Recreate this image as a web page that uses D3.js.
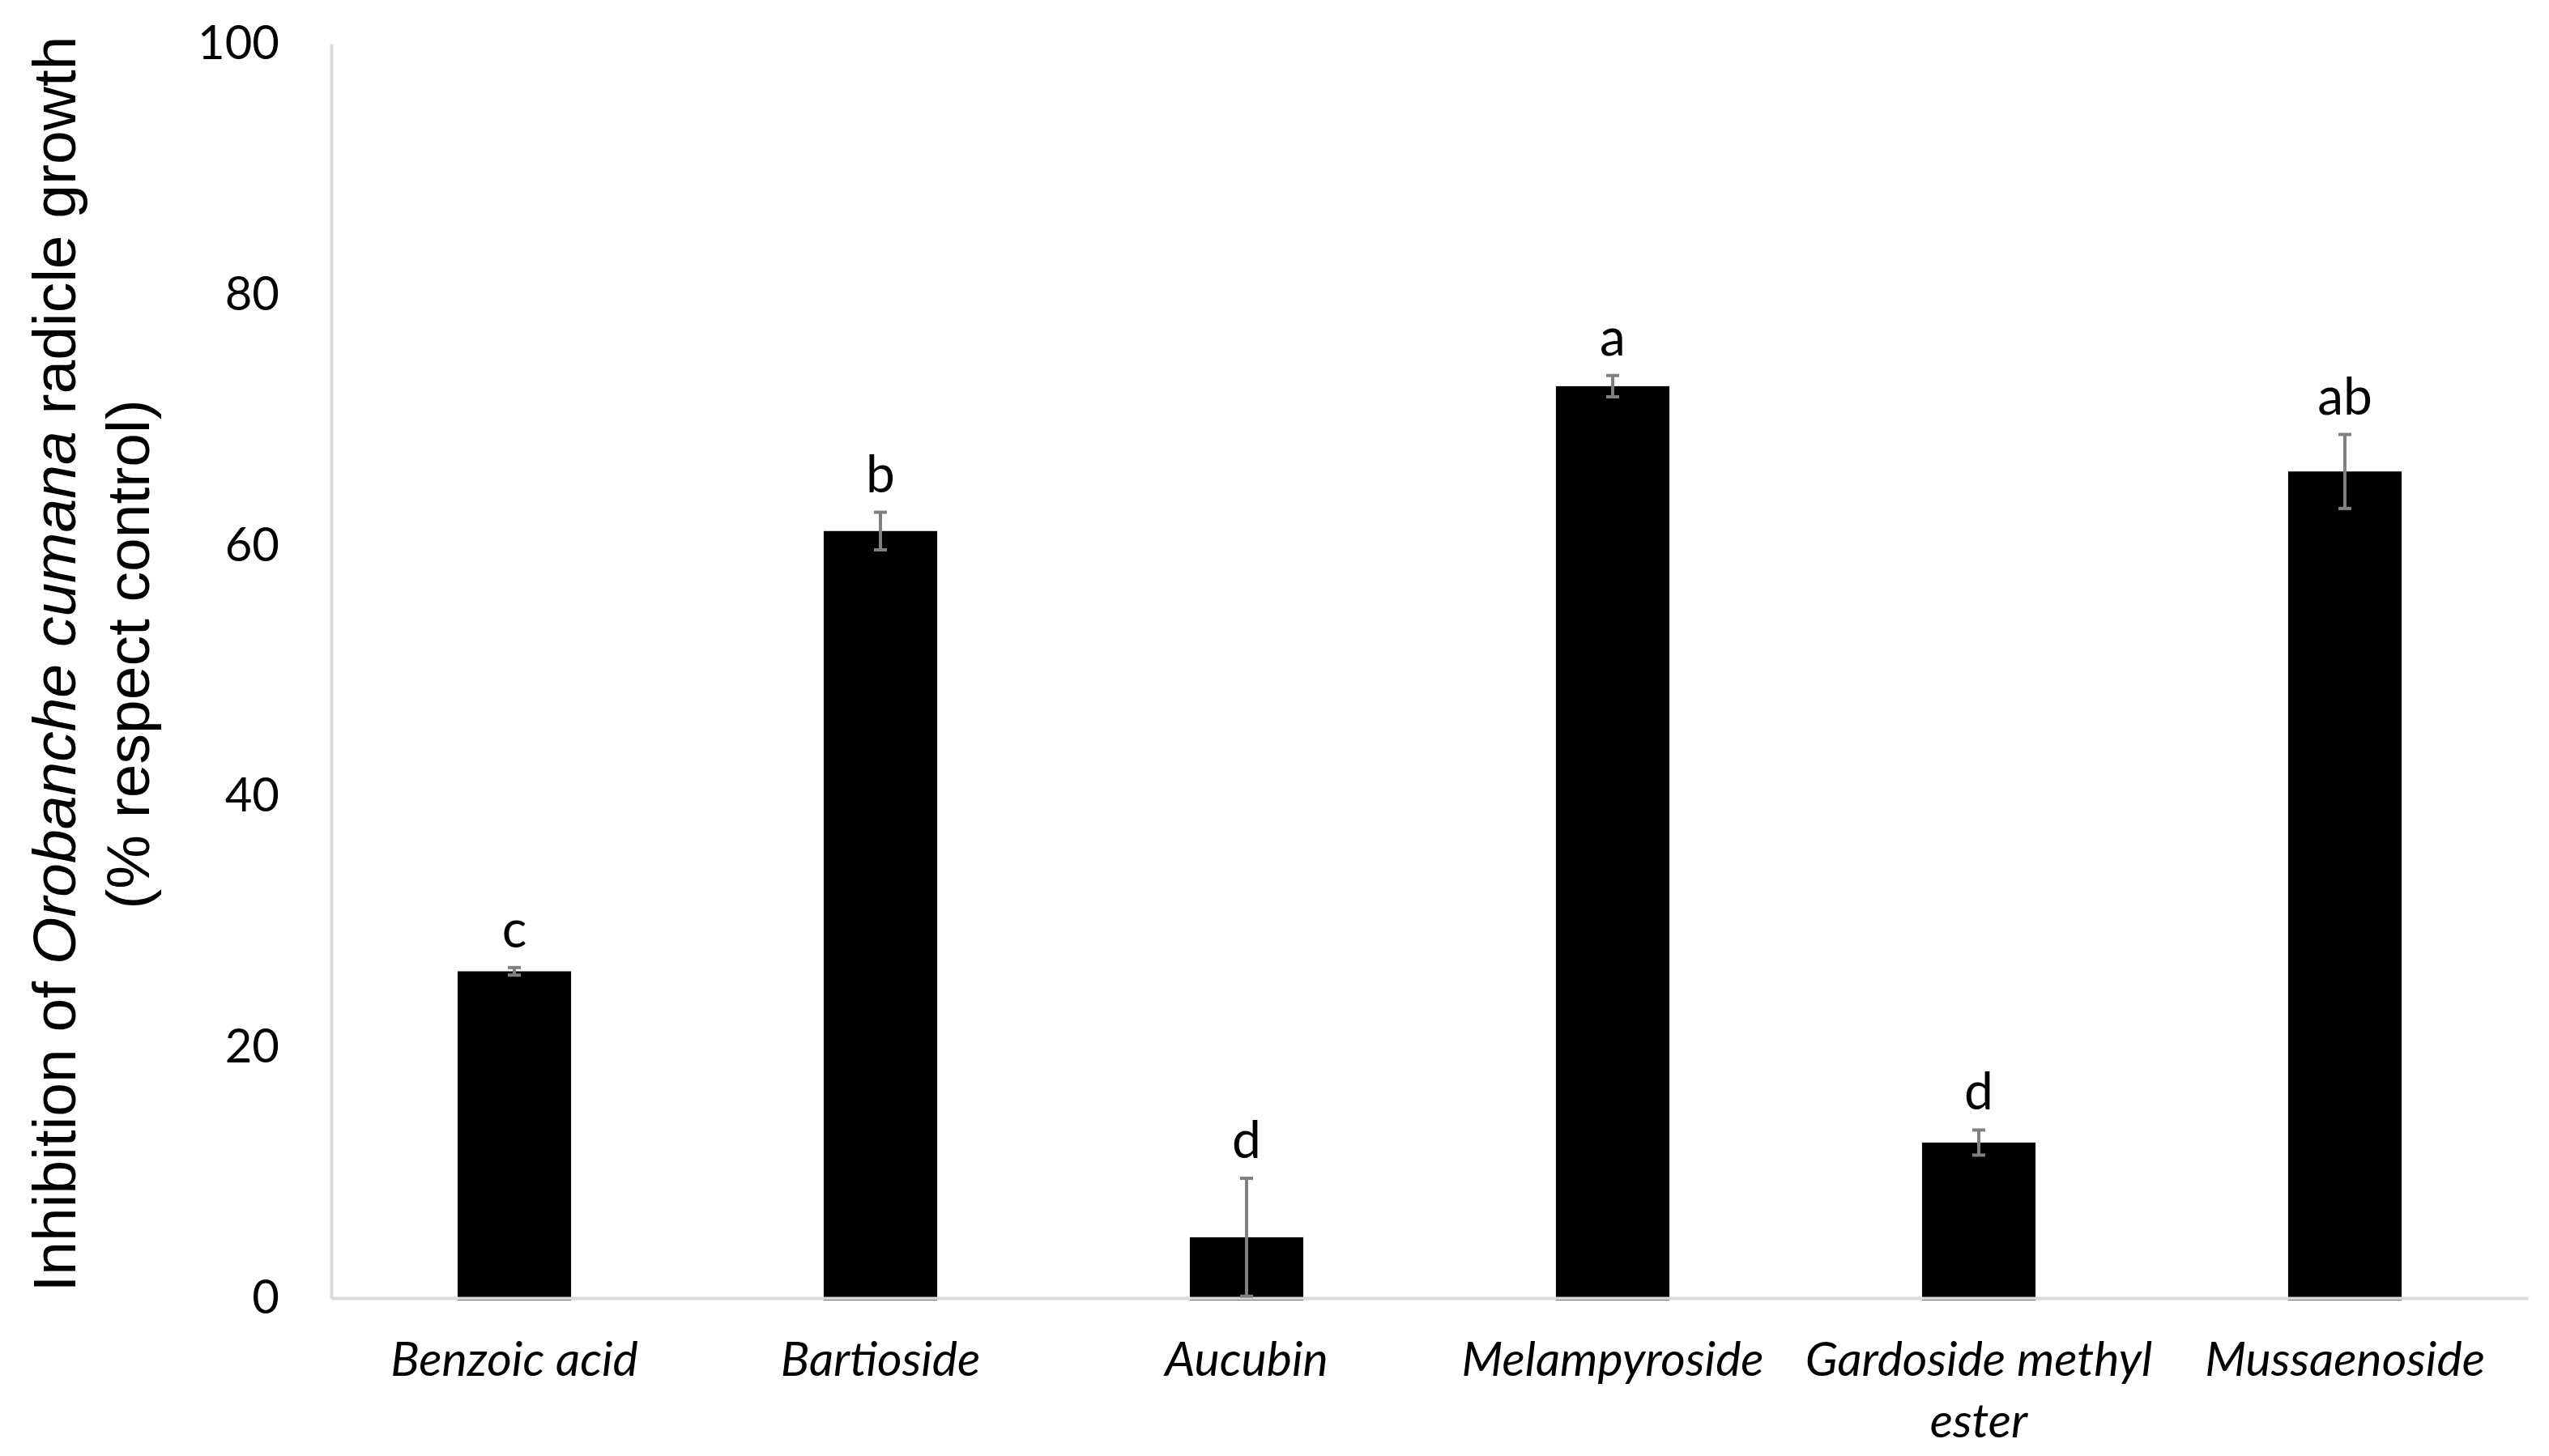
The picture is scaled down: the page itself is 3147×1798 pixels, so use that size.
<!DOCTYPE html>
<meta charset="utf-8">
<head>
    <style>
        body { margin: 0; background: #fff; }
        .tick text { font-family: Lato, sans-serif; fill: #000; }
        .axis path.domain { stroke: #d9d9d9; stroke-width: 4; }
    </style>
</head>
<body>
    <script src="https://d3js.org/d3.v7.min.js"></script>
    <div id="chart"></div>
    <script>
        // data
        var categories = ["Benzoic acid", "Bartioside", "Aucubin", "Melampyroside", "Gardoside methyl ester", "Mussaenoside"];
        var means = [26.05, 61.15, 4.85, 72.7, 12.4, 65.9];
        var errors = [0.3, 1.5, 4.7, 0.85, 1.0, 2.95];
        var letters = ["c", "b", "d", "a", "d", "ab"];
        var yTicks = [0, 20, 40, 60, 80, 100];

        var W = 3147, H = 1798;
        var margin = { top: 54, right: 26, bottom: 195, left: 409 };

        var svg = d3.select("#chart").append("svg")
            .attr("width", W)
            .attr("height", H)
            .style("background", "#fff");

        var x = d3.scaleBand()
            .domain(categories)
            .range([margin.left, W - margin.right])
            .paddingInner(0.69)
            .paddingOuter(0.345);

        var y = d3.scaleLinear()
            .domain([0, 100])
            .range([H - margin.bottom, margin.top]);

        var rows = categories.map(function (c, i) {
            return { cat: c, mean: means[i], err: errors[i], letter: letters[i] };
        });

        // bars (run a hair below the axis line like the original)
        svg.append("g").selectAll("rect")
            .data(rows)
            .enter().append("rect")
            .attr("x", function (d) { return x(d.cat); })
            .attr("width", x.bandwidth())
            .attr("y", function (d) { return y(d.mean); })
            .attr("height", function (d) { return y(0) - y(d.mean) + 3; })
            .attr("fill", "#000");

        // y axis
        var yAxis = svg.append("g")
            .attr("class", "axis")
            .attr("transform", "translate(" + margin.left + ",0)")
            .call(d3.axisLeft(y).tickValues(yTicks).tickSize(0).tickSizeOuter(0).tickPadding(64));
        yAxis.selectAll(".tick text").style("font-size", "58px");

        // x axis
        var xAxis = svg.append("g")
            .attr("class", "axis")
            .attr("transform", "translate(0," + y(0) + ")")
            .call(d3.axisBottom(x).tickSize(0).tickSizeOuter(0));
        xAxis.selectAll(".tick text")
            .style("font-size", "59px")
            .style("font-style", "italic")
            .attr("y", 96)
            .attr("dy", 0)
            .call(wrap, x.step());

        function wrap(sel, maxW) {
            sel.each(function () {
                var t = d3.select(this);
                var words = t.text().split(" ");
                t.text(null);
                var line = [];
                var lineNo = 0;
                var tspan = t.append("tspan").attr("x", 0).attr("y", 96);
                words.forEach(function (w) {
                    line.push(w);
                    tspan.text(line.join(" "));
                    if (tspan.node().getComputedTextLength() > maxW && line.length > 1) {
                        line.pop();
                        tspan.text(line.join(" "));
                        line = [w];
                        lineNo++;
                        tspan = t.append("tspan").attr("x", 0).attr("y", 96 + lineNo * 76).text(w);
                    }
                });
            });
        }

        // error bars
        var eb = svg.append("g")
            .attr("stroke", "#808080")
            .attr("stroke-width", 4);
        var cap = 8;
        rows.forEach(function (d) {
            var cx = x(d.cat) + x.bandwidth() / 2;
            eb.append("line")
                .attr("x1", cx).attr("x2", cx)
                .attr("y1", y(d.mean + d.err)).attr("y2", y(d.mean - d.err));
            eb.append("line")
                .attr("x1", cx - cap).attr("x2", cx + cap)
                .attr("y1", y(d.mean + d.err)).attr("y2", y(d.mean + d.err));
            eb.append("line")
                .attr("x1", cx - cap).attr("x2", cx + cap)
                .attr("y1", y(d.mean - d.err)).attr("y2", y(d.mean - d.err));
        });

        // significance letters
        svg.append("g").selectAll("text")
            .data(rows)
            .enter().append("text")
            .attr("x", function (d) { return x(d.cat) + x.bandwidth() / 2; })
            .attr("y", function (d) { return y(d.mean + d.err) - 25; })
            .attr("text-anchor", "middle")
            .style("font-family", "Lato, sans-serif")
            .style("font-size", "64px")
            .text(function (d) { return d.letter; });

        // y axis title, two lines
        var title1 = svg.append("text")
            .attr("transform", "translate(93,820) rotate(-90)")
            .attr("text-anchor", "middle")
            .style("font-family", "'Liberation Sans', Arial, sans-serif")
            .style("font-size", "75px");
        title1.append("tspan").text("Inhibition of ");
        title1.append("tspan").style("font-style", "italic").text("Orobanche cumana");
        title1.append("tspan").text(" radicle growth");

        svg.append("text")
            .attr("transform", "translate(184,808) rotate(-90)")
            .attr("text-anchor", "middle")
            .style("font-family", "'Liberation Sans', Arial, sans-serif")
            .style("font-size", "75px")
            .text("(% respect control)");
    </script>
</body>
